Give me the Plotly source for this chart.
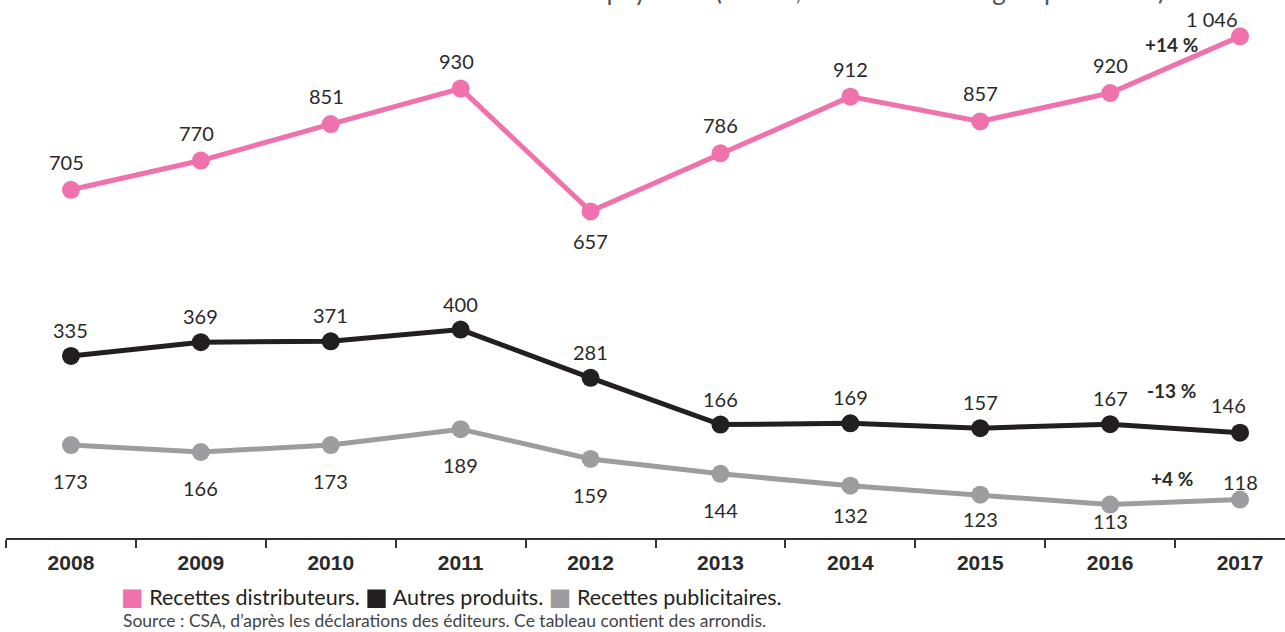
import plotly.graph_objects as go

years = ["2008", "2009", "2010", "2011", "2012", "2013", "2014", "2015", "2016", "2017"]
recettes_distributeurs = [705, 770, 851, 930, 657, 786, 912, 857, 920, 1046]
autres_produits = [335, 369, 371, 400, 281, 166, 169, 157, 167, 146]
recettes_publicitaires = [173, 166, 173, 189, 159, 144, 132, 123, 113, 118]
distrib_labels = ["705", "770", "851", "930", "657", "786", "912", "857", "920", "1 046"]
evolutions = ["+14 %", "-13 %", "+4 %"]
legend_names = ["Recettes distributeurs.", "Autres produits.", "Recettes publicitaires."]
source_text = "Source : CSA, d’après les déclarations des éditeurs. Ce tableau contient des arrondis."
title_text = "Évolution des ressources des chaînes payantes (en M€, hors chaînes du groupe Canal+)"

PINK = "#ef72ad"
BLACK = "#231f20"
GREY = "#9d9da0"
TXT = "#2a2a2a"
NUMFONT = "Lato, Open Sans, sans-serif"

# label offsets (px) relative to each point: (xshift, yshift)
pink_off = [(-4, 28)] * 4 + [(0, -30)] + [(0, 28)] * 4 + [(-28, 17)]
black_off = [(0, 26)] * 9 + [(-12, 28)]
grey_off = [(0, -36)] * 6 + [(0, -29), (0, -24), (0, -16), (0, 18)]

fig = go.Figure()
series = [
    (recettes_distributeurs, PINK, "y", legend_names[0]),
    (autres_produits, BLACK, "y2", legend_names[1]),
    (recettes_publicitaires, GREY, "y3", legend_names[2]),
]
for vals, col, ax, name in series:
    fig.add_trace(go.Scatter(
        x=years, y=vals, yaxis=ax, mode="lines+markers", name=name,
        line=dict(color=col, width=5), marker=dict(color=col, size=18),
        showlegend=False, cliponaxis=False, hoverinfo="skip",
    ))

annotations = []
def add_labels(vals, texts, offs, yref):
    for i, (v, t, (dx, dy)) in enumerate(zip(vals, texts, offs)):
        annotations.append(dict(
            x=i, y=v, xref="x", yref=yref, text=t, showarrow=False,
            xshift=dx, yshift=dy, font=dict(family=NUMFONT, size=20, color=TXT),
        ))

add_labels(recettes_distributeurs, distrib_labels, pink_off, "y")
add_labels(autres_produits, [str(v) for v in autres_produits], black_off, "y2")
add_labels(recettes_publicitaires, [str(v) for v in recettes_publicitaires], grey_off, "y3")

# evolution labels
for t, yy in zip(evolutions, [0.918, 0.275, 0.1115]):
    annotations.append(dict(
        x=0.9116, y=yy, xref="paper", yref="paper", text=f"<b>{t}</b>",
        showarrow=False, font=dict(family=NUMFONT, size=19, color=TXT),
        xanchor="center", yanchor="middle",
    ))

sq = "<span style='color:{c};font-family:DejaVu Sans;font-size:24px'>■</span>"
legend_html = (
    f"{sq.format(c=PINK)} {legend_names[0]} "
    f"{sq.format(c=BLACK)} {legend_names[1]} "
    f"{sq.format(c=GREY)} {legend_names[2]}"
)
annotations.append(dict(
    x=(119 - 6) / 1279, y=(538 - 597) / 538, xref="paper", yref="paper",
    text=legend_html, showarrow=False, xanchor="left", yanchor="middle",
    font=dict(family=NUMFONT, size=21.5, color=BLACK),
))
annotations.append(dict(
    x=(121 - 6) / 1279, y=(538 - 621) / 538, xref="paper", yref="paper",
    text=source_text, showarrow=False, xanchor="left", yanchor="middle",
    font=dict(family=NUMFONT, size=17.5, color="#444444"),
))
annotations.append(dict(
    x=(672 - 6) / 1279, y=(538 - 8) / 538, xref="paper", yref="paper",
    text=title_text, showarrow=False, xanchor="center", yanchor="bottom",
    font=dict(family=NUMFONT, size=26, color="#555555"),
))

hidden = dict(visible=False, showgrid=False, zeroline=False, fixedrange=True)
fig.update_layout(
    width=1285, height=632,
    margin=dict(l=6, r=0, t=0, b=94),
    paper_bgcolor="white", plot_bgcolor="white",
    xaxis=dict(
        type="category", range=[-0.5, 9.346], tickson="boundaries",
        ticks="outside", ticklen=8, tickwidth=1.5, tickcolor="#333333",
        showline=True, linecolor="#333333", linewidth=1.5, showgrid=False,
        ticklabelstandoff=5, fixedrange=True,
        tickfont=dict(family="Liberation Sans, Arial, sans-serif", size=21,
                      color=TXT, weight=700),
    ),
    yaxis=dict(range=[-68.8, 1126.8], **hidden),
    yaxis2=dict(range=[-113.4, 1211.7], overlaying="y", **hidden),
    yaxis3=dict(range=[79.3, 621.6], overlaying="y", **hidden),
    annotations=annotations,
    showlegend=False,
)

fig.write_html(
    "out.html",
    config={"displayModeBar": False},
    post_script="document.body.style.margin='0';document.body.style.overflow='hidden';",
)
